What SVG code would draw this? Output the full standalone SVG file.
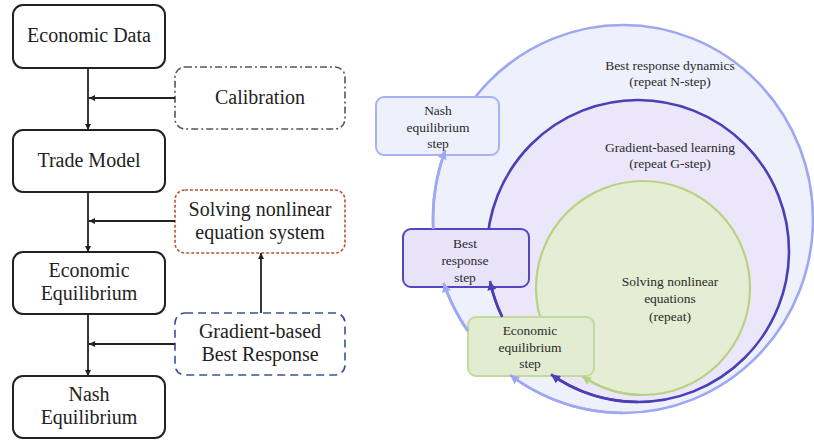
<svg xmlns="http://www.w3.org/2000/svg" width="814" height="440" viewBox="0 0 814 440">
<defs>
<style>
.box{fill:#fff;stroke:#222;stroke-width:2}
.lt{font-size:20px;fill:#222;text-anchor:middle}
.rt{font-size:13.5px;fill:#2a2a2a;text-anchor:middle}
.conn{fill:none;stroke:#222;stroke-width:1.8}
.arcL{fill:none;stroke:#9ea8f2;stroke-width:2.6}
.arcP{fill:none;stroke:#4a3fb5;stroke-width:2.6}
.arcG{fill:none;stroke:#b8d284;stroke-width:2.2}
</style>
<marker id="mk" viewBox="0 0 10 10" refX="10" refY="5" markerWidth="7" markerHeight="6" markerUnits="userSpaceOnUse" orient="auto"><path d="M0,0 L10,5 L0,10 z" fill="#222"/></marker>
<marker id="mL" viewBox="0 0 10 10" refX="10" refY="5" markerWidth="11" markerHeight="9" markerUnits="userSpaceOnUse" orient="auto"><path d="M0,0 L10,5 L0,10 z" fill="#9ea8f2"/></marker>
<marker id="mP" viewBox="0 0 10 10" refX="10" refY="5" markerWidth="11" markerHeight="9" markerUnits="userSpaceOnUse" orient="auto"><path d="M0,0 L10,5 L0,10 z" fill="#4a3fb5"/></marker>
<marker id="mG" viewBox="0 0 10 10" refX="10" refY="5" markerWidth="11" markerHeight="9" markerUnits="userSpaceOnUse" orient="auto"><path d="M0,0 L10,5 L0,10 z" fill="#b8d284"/></marker>
</defs>
<rect width="814" height="440" fill="#fff"/>
<g font-family="Liberation Serif, DejaVu Serif, serif">

<g id="loop-best-response-dynamics">
<ellipse cx="623" cy="219" rx="190" ry="194" fill="#eef1fc" stroke="#9ea8f2" stroke-width="2.6"/>
<text class="rt" x="670" y="69.5">Best response dynamics</text>
<text class="rt" x="670" y="85.5">(repeat N-step)</text>
</g>
<g id="loop-gradient-learning">
<circle cx="638" cy="251" r="151" fill="#ebe6f9" stroke="#4a3fb5" stroke-width="2.6"/>
<text class="rt" x="670" y="151.5">Gradient-based learning</text>
<text class="rt" x="670" y="167.5">(repeat G-step)</text>
</g>
<g id="loop-solving">
<circle cx="643" cy="288" r="107" fill="#e5eed4" stroke="#b8d284" stroke-width="2.2"/>
<text class="rt" x="670" y="286">Solving nonlinear</text>
<text class="rt" x="670" y="303">equations</text>
<text class="rt" x="670" y="321">(repeat)</text>
</g>

<g id="nash-step">
<rect x="376" y="97" width="123" height="58" rx="8" fill="#eef1fc" stroke="#a7b2f2" stroke-width="2"/>
<text class="rt" x="438" y="114.5">Nash</text>
<text class="rt" x="438" y="131.5">equilibrium</text>
<text class="rt" x="438" y="147.5">step</text>
</g>
<g id="best-response-step">
<rect x="403" y="229" width="126" height="58" rx="8" fill="#e9e3fa" stroke="#5247c0" stroke-width="2"/>
<text class="rt" x="465" y="247.5">Best</text>
<text class="rt" x="465" y="264.5">response</text>
<text class="rt" x="465" y="281.5">step</text>
</g>
<g id="economic-equilibrium-step">
<rect x="468" y="317" width="126" height="59" rx="8" fill="#e2ecd0" stroke="#c4d99e" stroke-width="2"/>
<text class="rt" x="530" y="334.5">Economic</text>
<text class="rt" x="530" y="351.5">equilibrium</text>
<text class="rt" x="530" y="367.5">step</text>
</g>

<g id="economic-data">
<rect class="box" x="13" y="5" width="152" height="63" rx="10"/>
<text class="lt" x="89" y="42">Economic Data</text>
</g>
<g id="calibration">
<rect x="175" y="67" width="170" height="62" rx="10" fill="#fff" stroke="#555" stroke-width="1.6" stroke-dasharray="7,3,2,3"/>
<text class="lt" x="260" y="104">Calibration</text>
</g>
<g id="trade-model">
<rect class="box" x="13" y="130" width="152" height="62" rx="10"/>
<text class="lt" x="89" y="167">Trade Model</text>
</g>
<g id="solving-system">
<rect x="175" y="190" width="170" height="63" rx="10" fill="#fff" stroke="#b5552f" stroke-width="1.6" stroke-dasharray="3,2"/>
<text class="lt" x="260" y="216">Solving nonlinear</text>
<text class="lt" x="260" y="239">equation system</text>
</g>
<g id="economic-equilibrium">
<rect class="box" x="13" y="252" width="152" height="62" rx="10"/>
<text class="lt" x="89" y="277">Economic</text>
<text class="lt" x="89" y="300">Equilibrium</text>
</g>
<g id="gradient-best-response">
<rect x="175" y="313" width="170" height="62" rx="10" fill="#fff" stroke="#3c4f9e" stroke-width="1.6" stroke-dasharray="8,5"/>
<text class="lt" x="260" y="338">Gradient-based</text>
<text class="lt" x="260" y="361">Best Response</text>
</g>
<g id="nash-equilibrium">
<rect class="box" x="13" y="376" width="152" height="62" rx="10"/>
<text class="lt" x="89" y="401">Nash</text>
<text class="lt" x="89" y="424">Equilibrium</text>
</g>
</g>

<g id="connectors">
<path class="conn" d="M88,68 V130" marker-end="url(#mk)"/>
<path class="conn" d="M88,192 V252" marker-end="url(#mk)"/>
<path class="conn" d="M88,314 V376" marker-end="url(#mk)"/>
<path class="conn" d="M175,98 H89" marker-end="url(#mk)"/>
<path class="conn" d="M175,221 H89" marker-end="url(#mk)"/>
<path class="conn" d="M175,344 H89" marker-end="url(#mk)"/>
<path class="conn" d="M261,313 V253" marker-end="url(#mk)"/>
<path class="arcL" d="M623,413 A190,194 0 0,1 510,375" marker-end="url(#mL)"/>
<path class="arcL" d="M468,331 A190,194 0 0,1 443.6,283" marker-end="url(#mL)"/>
<path class="arcL" d="M433.2,229 A190,194 0 0,1 445.4,150" marker-end="url(#mL)"/>
<path class="arcP" d="M502.2,317 A151,151 0 0,1 490,281" marker-end="url(#mP)"/>
<path class="arcP" d="M638,402 A151,151 0 0,1 551,374.4" marker-end="url(#mP)"/>
<path class="arcG" d="M643,395 A107,107 0 0,1 582,376" marker-end="url(#mG)"/>
</g>
</svg>
